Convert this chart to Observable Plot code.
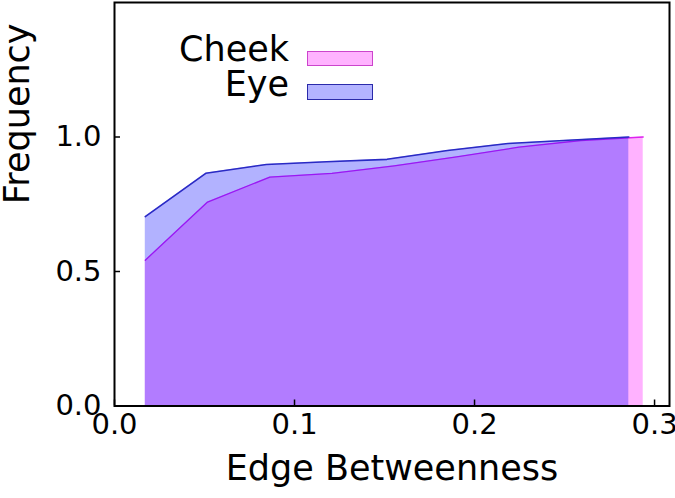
<!DOCTYPE html>
<html>
<head>
<meta charset="utf-8">
<script src="https://cdn.jsdelivr.net/npm/d3@7"></script>
<script src="https://cdn.jsdelivr.net/npm/@observablehq/plot@0.6"></script>
<style>
  html, body { margin: 0; padding: 0; background: white; }
  #wrap { position: relative; width: 675px; height: 498px; font-family: "DejaVu Sans", sans-serif; }
  .lg-text { position: absolute; font-size: 35px; line-height: 30px; height: 30px; color: black; text-align: right; width: 200px; }
  .lg-swatch { position: absolute; box-sizing: border-box; }
</style>
</head>
<body>
<div id="wrap"></div>
<script>
// Data
const eyeX = [0.0171, 0.0507, 0.0843, 0.1178, 0.1514, 0.1850, 0.2186, 0.2521, 0.2857];
const eyeY = [0.704, 0.865, 0.898, 0.908, 0.917, 0.950, 0.976, 0.988, 1.0];
const cheekX = [0.0171, 0.0517, 0.0863, 0.1208, 0.1554, 0.1900, 0.2246, 0.2591, 0.2937];
const cheekY = [0.542, 0.758, 0.851, 0.865, 0.893, 0.926, 0.962, 0.987, 1.0];
const xTicks = [0.0, 0.1, 0.2, 0.3];
const yTicks = [0.0, 0.5, 1.0];
const seriesNames = ["Cheek", "Eye"];

const cheek = cheekX.map((x, i) => ({x, y: cheekY[i]}));
const eye = eyeX.map((x, i) => ({x, y: eyeY[i]}));

const W = 675, H = 498;
const mT = 2, mB = 92.5, mL = 114, mR = 6;
const plotH = H - mT - mB;
const plotW = W - mL - mR;
const fmt = d3.format(".1f");

const chart = Plot.plot({
  width: W,
  height: H,
  marginTop: mT,
  marginBottom: mB,
  marginLeft: mL,
  marginRight: mR,
  style: {fontFamily: "DejaVu Sans, sans-serif", background: "white", color: "black", overflow: "visible"},
  x: {domain: [0, 0.3083]},
  y: {domain: [0, 1.5]},
  marks: [
    Plot.areaY(cheek, {x: "x", y: "y", fill: "magenta", fillOpacity: 0.3}),
    Plot.lineY(cheek, {x: "x", y: "y", stroke: "#dd22ee", strokeWidth: 1.3}),
    Plot.areaY(eye, {x: "x", y: "y", fill: "blue", fillOpacity: 0.3}),
    Plot.lineY(eye, {x: "x", y: "y", stroke: "#2a2ac4", strokeWidth: 1.6}),
    Plot.tickX(xTicks, {x: d => d, stroke: "black", strokeWidth: 1.5, insetTop: plotH - 6}),
    Plot.tickY(yTicks, {y: d => d, stroke: "black", strokeWidth: 1.5, insetRight: plotW - 6}),
    Plot.axisX({ticks: xTicks, tickSize: 0, tickPadding: 7, tickFormat: fmt, fontSize: 29, label: null}),
    Plot.axisY({ticks: yTicks, tickSize: 0, tickPadding: 13, tickFormat: fmt, fontSize: 29, label: null}),
    Plot.text(["Edge Betweenness"], {frameAnchor: "bottom", dy: 74, fontSize: 35, fill: "black"}),
    Plot.text(["Frequency"], {frameAnchor: "left", dx: -97, rotate: -90, fontSize: 35, fill: "black"}),
    Plot.frame({stroke: "black", strokeWidth: 2})
  ]
});

const wrap = document.getElementById("wrap");
wrap.appendChild(chart);

// Legend (HTML overlay)
const legend = [
  {name: seriesNames[0], fill: "#ffb3ff", stroke: "#cc44cc", textTop: 34, swTop: 50.5},
  {name: seriesNames[1], fill: "#b3b3ff", stroke: "#2a2aaa", textTop: 68.5, swTop: 84.3}
];
legend.forEach(l => {
  const t = document.createElement("div");
  t.className = "lg-text";
  t.textContent = l.name;
  t.style.left = (289 - 200) + "px";
  t.style.top = l.textTop + "px";
  wrap.appendChild(t);
  const s = document.createElement("div");
  s.className = "lg-swatch";
  s.style.left = "306.5px";
  s.style.top = l.swTop + "px";
  s.style.width = "66.5px";
  s.style.height = "15.7px";
  s.style.background = l.fill;
  s.style.border = "1.5px solid " + l.stroke;
  wrap.appendChild(s);
});
</script>
</body>
</html>
